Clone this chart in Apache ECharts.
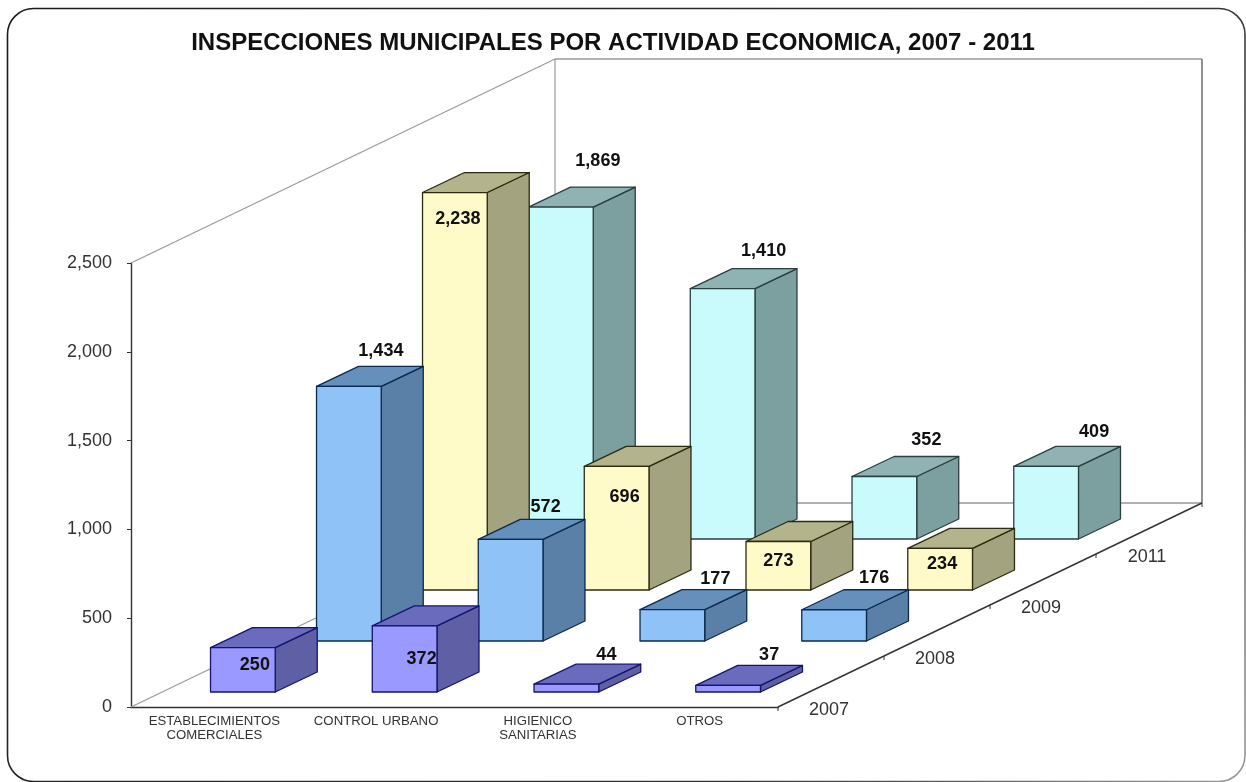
<!DOCTYPE html>
<html>
<head>
<meta charset="utf-8">
<title>Inspecciones municipales</title>
<style>
  html, body { margin: 0; padding: 0; background: #fff; }
  #chart { width: 1246px; height: 782px; }
</style>
<script src="https://cdn.jsdelivr.net/npm/echarts@6/dist/echarts.min.js"></script>
</head>
<body>
<div id="chart"></div>
<script>
// ----- Data -----
const categories = ['ESTABLECIMIENTOS\nCOMERCIALES', 'CONTROL URBANO', 'HIGIENICO\nSANITARIAS', 'OTROS'];
const years = ['2007', '2008', '2009', '2011'];
const values2007 = [250, 372, 44, 37];
const values2008 = [1434, 572, 177, 176];
const values2009 = [2238, 696, 273, 234];
const values2011 = [1869, 1410, 352, 409];

// ----- Look of the fake 3D box (pixels, not data) -----
const FONT = '"Liberation Sans", Arial, sans-serif';
const DEPTH_STEP = [106, -51];   // one year further back
const DEPTH_START = [31, -15];   // first row inside its floor cell
const BOX_DEPTH = [42, -20];     // depth of a single box
const BAR_RATIO = 0.4;

const boxColors = [
  { front: '#9999ff', top: '#6b6bbd', side: '#5f5fa6', line: '#14146e' },
  { front: '#8fc3f7', top: '#6590bc', side: '#5a80a8', line: '#0c2a4e' },
  { front: '#fefbc9', top: '#b3b38c', side: '#a3a37f', line: '#2b2b12' },
  { front: '#c9fbfd', top: '#8fb3b3', side: '#7c9f9f', line: '#2a3f3f' }
];

// label anchor per box: dx from face centre, dy from face top
const labelNudge = [
  [[12, 17], [17, 33], [40, -29], [41, -30]],
  [[32, -35], [35, -32], [43, -31], [40, -32]],
  [[3, 27], [8, 31], [0, 20], [2, 16]],
  [[37, -46], [41, -38], [42, -36], [48, -34]]
];

// ----- Walls, floor and the depth axis -----
function renderWalls(params, api) {
  const g = params.coordSys;
  const x0 = g.x, x1 = g.x + g.width, yTop = g.y, yBase = g.y + g.height;
  const dx = DEPTH_STEP[0] * years.length, dy = DEPTH_STEP[1] * years.length;
  const seg = (a, b, c, d, color, w) => ({
    type: 'line',
    shape: { x1: a, y1: b, x2: c, y2: d },
    style: { stroke: color, lineWidth: w }
  });
  const wall = '#9a9a9a';
  const children = [
    seg(x0, yTop, x0 + dx, yTop + dy, wall, 1.2),
    seg(x0, yBase, x0 + dx, yBase + dy, wall, 1.2),
    seg(x0 + dx, yTop + dy, x1 + dx, yTop + dy, wall, 1.6),
    seg(x0 + dx, yTop + dy, x0 + dx, yBase + dy, wall, 1.2),
    seg(x1 + dx, yTop + dy, x1 + dx, yBase + dy, '#777', 1.6),
    seg(x0 + dx, yBase + dy, x1 + dx, yBase + dy, '#666', 1.2),
    seg(x1, yBase, x1 + dx, yBase + dy, '#333', 1.4)
  ];
  years.forEach((y, k) => {
    const tx = x1 + DEPTH_STEP[0] * k, ty = yBase + DEPTH_STEP[1] * k;
    children.push(seg(tx, ty, tx, ty + 4, '#333', 1));
    children.push({
      type: 'text',
      style: {
        text: y, x: tx + 51, y: ty + 3, align: 'center', verticalAlign: 'middle',
        font: '18px ' + FONT, fill: '#333'
      }
    });
  });
  children.push(seg(x1 + dx, yBase + dy, x1 + dx, yBase + dy + 4, '#333', 1));
  return { type: 'group', children };
}

// ----- One row of boxes -----
function boxRenderer(depth) {
  return function (params, api) {
    const cat = api.value(0), val = api.value(1);
    const base = api.coord([cat, 0]);
    const topPt = api.coord([cat, val]);
    const w = api.size([1, 0])[0] * BAR_RATIO;
    const ox = DEPTH_START[0] + DEPTH_STEP[0] * depth;
    const oy = DEPTH_START[1] + DEPTH_STEP[1] * depth;
    const xc = base[0] + ox;
    const l = xc - w / 2, r = xc + w / 2;
    const b = base[1] + oy, t = topPt[1] + oy;
    const ddx = BOX_DEPTH[0], ddy = BOX_DEPTH[1];
    const c = boxColors[depth];
    const poly = (points, fill) => ({
      type: 'polygon',
      shape: { points },
      style: { fill, stroke: c.line, lineWidth: 1.3, lineJoin: 'round' }
    });
    const n = labelNudge[depth][cat];
    return {
      type: 'group',
      children: [
        poly([[r, t], [r + ddx, t + ddy], [r + ddx, b + ddy], [r, b]], c.side),
        poly([[l, t], [l + ddx, t + ddy], [r + ddx, t + ddy], [r, t]], c.top),
        poly([[l, t], [r, t], [r, b], [l, b]], c.front),
        {
          type: 'text',
          style: {
            text: val.toLocaleString('en-US'),
            x: xc + n[0], y: t + n[1],
            align: 'center', verticalAlign: 'middle',
            font: 'bold 18px ' + FONT, fill: '#111'
          }
        }
      ]
    };
  };
}

function boxSeries(name, values, depth) {
  return {
    name,
    type: 'custom',
    coordinateSystem: 'cartesian2d',
    renderItem: boxRenderer(depth),
    encode: { x: 0, y: 1 },
    data: values.map((v, i) => [i, v]),
    clip: false,
    silent: true
  };
}

const chart = echarts.init(document.getElementById('chart'), null, { renderer: 'canvas' });
chart.setOption({
  backgroundColor: '#fff',
  animation: false,
  title: {
    text: 'INSPECCIONES MUNICIPALES POR ACTIVIDAD ECONOMICA, 2007 - 2011',
    left: 608,
    top: 26,
    textAlign: 'center',
    textStyle: { fontFamily: FONT, fontSize: 24, fontWeight: 'bold', color: '#111' }
  },
  graphic: [{
    type: 'rect',
    z: -10,
    silent: true,
    shape: { x: 7.5, y: 8.5, width: 1237.5, height: 773, r: 26 },
    style: {
      fill: '#fff',
      lineWidth: 1.6,
      stroke: new echarts.graphic.LinearGradient(0, 0, 1, 1, [
        { offset: 0, color: '#1a1a1a' },
        { offset: 0.7, color: '#333' },
        { offset: 1, color: '#999' }
      ])
    }
  }],
  grid: { left: 131, top: 263, width: 647, height: 444 },
  xAxis: {
    type: 'category',
    data: categories,
    axisLine: { lineStyle: { color: '#333', width: 1.4 } },
    axisTick: { length: 4, lineStyle: { color: '#333' } },
    axisLabel: {
      interval: 0, color: '#333', fontFamily: FONT, fontSize: 13.2, lineHeight: 14, margin: 7,
      padding: [0, 0, 0, 5]
    }
  },
  yAxis: {
    type: 'value',
    min: 0,
    max: 2500,
    interval: 500,
    axisLine: { show: true, lineStyle: { color: '#333', width: 1.4 } },
    axisTick: { show: true, length: 4, lineStyle: { color: '#333' } },
    splitLine: { show: false },
    axisLabel: {
      color: '#333', fontFamily: FONT, fontSize: 18, margin: 19,
      formatter: (v) => v.toLocaleString('en-US')
    }
  },
  series: [
    {
      name: 'walls',
      type: 'custom',
      coordinateSystem: 'cartesian2d',
      renderItem: renderWalls,
      encode: { x: 0, y: 1 },
      data: [[0, 0]],
      clip: false,
      silent: true
    },
    boxSeries('2011', values2011, 3),
    boxSeries('2009', values2009, 2),
    boxSeries('2008', values2008, 1),
    boxSeries('2007', values2007, 0)
  ]
});
</script>
</body>
</html>
